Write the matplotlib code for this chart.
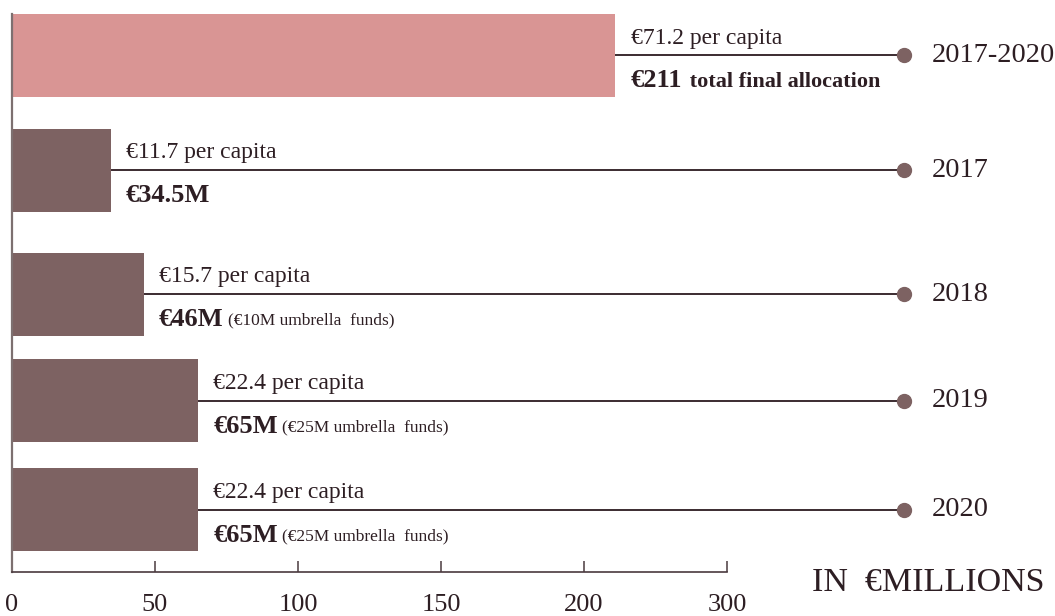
import matplotlib
matplotlib.use("Agg")
import matplotlib.pyplot as plt

plt.rcParams["font.family"] = ["Liberation Serif", "DejaVu Serif"]

# data
periods = ["2017-2020", "2017", "2018", "2019", "2020"]
allocation = [211, 34.5, 46, 65, 65]
per_capita = ["€71.2 per capita", "€11.7 per capita", "€15.7 per capita",
              "€22.4 per capita", "€22.4 per capita"]
amount_labels = ["€211", "€34.5M", "€46M", "€65M", "€65M"]
amount_notes = [" total final allocation", "", "(€10M umbrella  funds)",
                "(€25M umbrella  funds)", "(€25M umbrella  funds)"]
tick_values = [0, 50, 100, 150, 200, 250]
tick_labels = ["0", "50", "100", "150", "200", "300"]

PINK = "#d99594"
BROWN = "#7d6262"
DARK = "#2d1e23"
LINE = "#3b2b30"
dot_x = 312
year_x = 321.5

fig = plt.figure(figsize=(10.55, 6.16), dpi=100)
ax = fig.add_axes([12 / 1055, 1 - 572 / 616, 1 - 12 / 1055, (572 - 14) / 616])

# row layout (slightly uneven in the original)
row_y = [0, 1.01, 2.1, 3.04, 4]
colors = [PINK] + [BROWN] * (len(periods) - 1)
ax.barh(row_y, allocation, height=0.73, color=colors, zorder=2)

for i, (y, v) in enumerate(zip(row_y, allocation)):
    ax.plot([v, dot_x], [y, y], color=LINE, lw=1.4, zorder=3, solid_capstyle="butt")
    ax.plot(dot_x, y, "o", ms=10, color=BROWN, zorder=4)
    ax.annotate(per_capita[i], xy=(v, y), xytext=(11, 8.6), textcoords="offset points",
                ha="left", va="baseline", fontsize=17, color=DARK)
    t = ax.annotate(amount_labels[i], xy=(v, y), xytext=(11, -23), textcoords="offset points",
                    ha="left", va="baseline", fontsize=19, fontweight="bold", color=DARK)
    if amount_notes[i]:
        if i == 0:
            ax.annotate(amount_notes[i], xy=(1, 0), xycoords=t, xytext=(1, 0),
                        textcoords="offset points", ha="left", va="bottom",
                        fontsize=16, fontweight="bold", color=DARK)
        else:
            ax.annotate(amount_notes[i], xy=(1, 0), xycoords=t, xytext=(3, 2),
                        textcoords="offset points", ha="left", va="bottom",
                        fontsize=12.5, color=DARK)
    ax.text(year_x, y, periods[i], ha="left", va="center", fontsize=20.5, color=DARK)

ax.set_xlim(0, (1055 - 12) / 2.86)
ax.set_ylim(4.546, -0.365)

for s in ["top", "right"]:
    ax.spines[s].set_visible(False)
ax.spines["left"].set_color("#7d7070")
ax.spines["left"].set_linewidth(1.6)
ax.spines["bottom"].set_color("#4a3a3e")
ax.spines["bottom"].set_linewidth(1.2)
ax.spines["bottom"].set_bounds(0, 250)

ax.set_yticks([])
ax.set_xticks(tick_values)
ax.set_xticklabels(tick_labels)
ax.tick_params(axis="x", direction="in", length=8, width=1.1, color="#4a3a3e",
               labelsize=19, labelcolor=DARK, pad=16)

fig.text(928 / 1055, 1 - 583 / 616, "IN  €MILLIONS", ha="center", va="center",
         fontsize=24.5, color=DARK)

fig.savefig("out.png", dpi=100, facecolor="white")
